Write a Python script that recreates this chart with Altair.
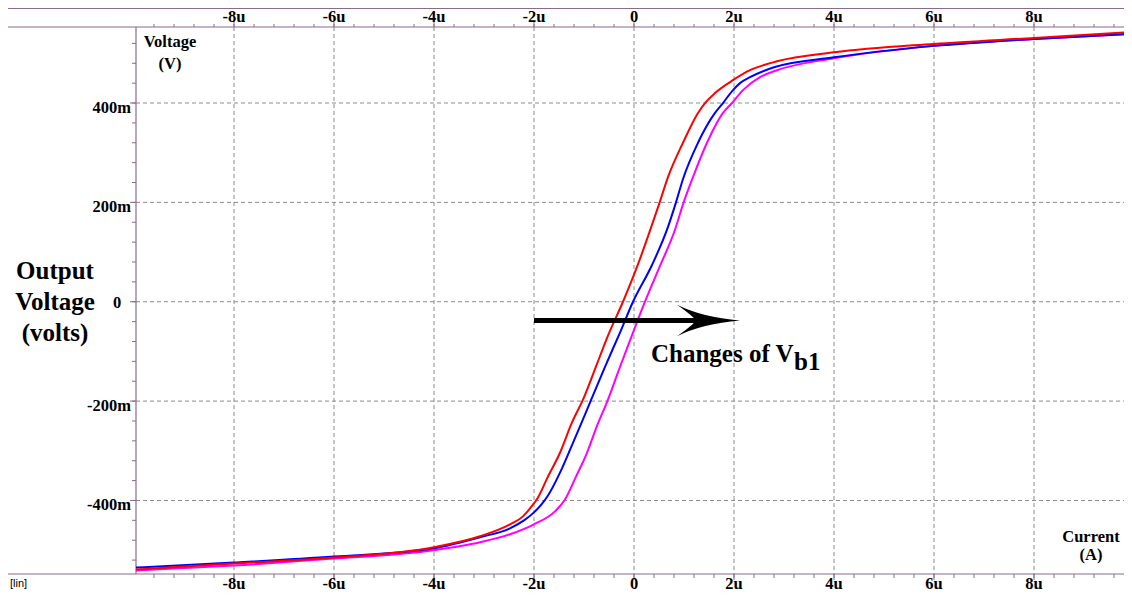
import altair as alt
import pandas as pd

# ---------------- data ----------------
red_x = [-9.96, -8, -6, -4, -3.08, -2.48, -2.22, -2.08, -1.92, -1.74, -1.48, -1.24, -1.02,
         -0.74, -0.52, -0.22, 0.06, 0.32, 0.5, 0.68, 0.98, 1.28, 1.42, 1.62, 1.98, 2.32,
         2.86, 4, 6, 8, 9.96]
red_y = [-0.539, -0.527, -0.515, -0.494, -0.472, -0.448, -0.432, -0.416, -0.394, -0.356,
         -0.304, -0.243, -0.197, -0.125, -0.068, 0.0, 0.07, 0.143, 0.196, 0.251, 0.32, 0.38,
         0.40, 0.42, 0.446, 0.466, 0.484, 0.502, 0.519, 0.531, 0.543]

blue_x = [-9.96, -8, -6, -4, -3.08, -2.48, -2.2, -2.0, -1.85, -1.72, -1.48, -1.28, -1.08,
          -0.86, -0.58, -0.28, -0.02, 0.36, 0.66, 0.84, 0.98, 1.28, 1.62, 1.78, 1.98, 2.12,
          2.32, 2.8, 4, 6, 8, 9.96]
blue_y = [-0.535, -0.525, -0.513, -0.496, -0.474, -0.456, -0.44, -0.424, -0.408, -0.39,
          -0.344, -0.298, -0.251, -0.198, -0.131, -0.062, 0.0, 0.074, 0.145, 0.2, 0.247,
          0.32, 0.38, 0.40, 0.426, 0.44, 0.452, 0.472, 0.492, 0.515, 0.529, 0.539]

mag_x = [-9.96, -8, -6, -4, -3.08, -2.48, -2.0, -1.58, -1.38, -1.16, -0.94, -0.74, -0.52,
         -0.28, -0.02, 0.22, 0.52, 0.82, 0.98, 1.18, 1.46, 1.78, 1.96, 2.18, 2.52, 2.86,
         4, 6, 8, 9.96]
mag_y = [-0.541, -0.531, -0.517, -0.50, -0.484, -0.468, -0.448, -0.422, -0.398, -0.352,
         -0.304, -0.25, -0.197, -0.131, -0.062, 0.0, 0.072, 0.145, 0.196, 0.251, 0.32, 0.38,
         0.40, 0.426, 0.452, 0.466, 0.49, 0.515, 0.529, 0.539]

x_major = [-8, -6, -4, -2, 0, 2, 4, 6, 8]
x_labels = ["-8u", "-6u", "-4u", "-2u", "0", "2u", "4u", "6u", "8u"]
y_major = [-0.4, -0.2, 0.2, 0.4]
y_labels = ["-400m", "-200m", "200m", "400m"]
y_zero = [0.0]
y_zero_label = ["0"]
x_minor = [round(-9.6 + 0.4 * i, 2) for i in range(49)]
y_minor = [round(-0.52 + 0.04 * i, 2) for i in range(27)]

arrow_x = [-2.0, 1.35]
arrow_y = [-0.038, -0.038]
arrow_head_x = [1.49]
arrow_head_y = [-0.038]

# ---------------- layout constants ----------------
W, H = 988, 547          # plot area: page x 136..1124, y 27..574
AXIS = "#8b6b8b"
GRID = "#8c8c8c"
SERIF = "Liberation Serif"
LBL = 16.5

xs = alt.Scale(domain=[-9.96, 9.8], nice=False, zero=False)
ys = alt.Scale(domain=[-0.548, 0.553], nice=False, zero=False)

def X(f):
    return alt.X(f, type="quantitative", scale=xs, axis=None)

def Y(f):
    return alt.Y(f, type="quantitative", scale=ys, axis=None)

one = pd.DataFrame({"a": [0]})
layers = []

# grid
gx = pd.DataFrame({"v": x_major})
layers.append(alt.Chart(gx).mark_rule(color=GRID, strokeDash=[4, 3], strokeWidth=1).encode(
    x=X("v"), y=alt.value(0), y2=alt.value(H)))
gy = pd.DataFrame({"v": y_major + y_zero})
layers.append(alt.Chart(gy).mark_rule(color=GRID, strokeDash=[4, 3], strokeWidth=1).encode(
    y=Y("v"), x=alt.value(0), x2=alt.value(W)))

# frame lines
for yv in [-18.5, 0, H]:
    layers.append(alt.Chart(one).mark_rule(color=AXIS, strokeWidth=1.2).encode(
        x=alt.value(-131), x2=alt.value(W), y=alt.value(yv)))
layers.append(alt.Chart(one).mark_rule(color=AXIS, strokeWidth=1.2).encode(
    x=alt.value(0), y=alt.value(0), y2=alt.value(H)))

# ticks
mx = pd.DataFrame({"v": x_minor})
layers.append(alt.Chart(mx).mark_rule(color=AXIS, strokeWidth=1).encode(
    x=X("v"), y=alt.value(-3), y2=alt.value(0)))
layers.append(alt.Chart(mx).mark_rule(color=AXIS, strokeWidth=1).encode(
    x=X("v"), y=alt.value(H), y2=alt.value(H + 4)))
layers.append(alt.Chart(gx).mark_rule(color=AXIS, strokeWidth=1).encode(
    x=X("v"), y=alt.value(-5), y2=alt.value(0)))
layers.append(alt.Chart(gx).mark_rule(color=AXIS, strokeWidth=1).encode(
    x=X("v"), y=alt.value(H), y2=alt.value(H + 6)))
my = pd.DataFrame({"v": y_minor})
layers.append(alt.Chart(my).mark_rule(color=AXIS, strokeWidth=1).encode(
    y=Y("v"), x=alt.value(-4), x2=alt.value(0)))
layers.append(alt.Chart(gy).mark_rule(color=AXIS, strokeWidth=1).encode(
    y=Y("v"), x=alt.value(-6), x2=alt.value(0)))

# tick labels
xl = pd.DataFrame({"v": x_major, "t": x_labels})
layers.append(alt.Chart(xl).mark_text(font=SERIF, fontWeight="bold", fontSize=LBL,
                                      baseline="alphabetic", align="center", color="black").encode(
    x=X("v"), y=alt.value(-5.5), text="t:N"))
layers.append(alt.Chart(xl).mark_text(font=SERIF, fontWeight="bold", fontSize=LBL,
                                      baseline="alphabetic", align="center", color="black").encode(
    x=X("v"), y=alt.value(H + 15), text="t:N"))
yl = pd.DataFrame({"v": y_major, "t": y_labels})
layers.append(alt.Chart(yl).mark_text(font=SERIF, fontWeight="bold", fontSize=LBL,
                                      baseline="alphabetic", align="right", dy=10, color="black").encode(
    y=Y("v"), x=alt.value(-5), text="t:N"))
yz = pd.DataFrame({"v": y_zero, "t": y_zero_label})
layers.append(alt.Chart(yz).mark_text(font=SERIF, fontWeight="bold", fontSize=LBL,
                                      baseline="alphabetic", align="center", dy=6, color="black").encode(
    y=Y("v"), x=alt.value(-19), text="t:N"))

# curves
for xsv, ysv, col in [(mag_x, mag_y, "#ff00ff"), (blue_x, blue_y, "#0000ff"), (red_x, red_y, "#ff0000")]:
    d = pd.DataFrame({"current": xsv, "voltage": ysv})
    layers.append(alt.Chart(d).mark_line(color=col, strokeWidth=2, interpolate="monotone", clip=True).encode(
        x=X("current"), y=Y("voltage")))

# arrow
ad = pd.DataFrame({"x": arrow_x, "y": arrow_y})
layers.append(alt.Chart(ad).mark_line(color="black", strokeWidth=5).encode(x=X("x"), y=Y("y")))
hd = pd.DataFrame({"x": arrow_head_x, "y": arrow_head_y})
head_path = "M 1 0 Q -0.2 -0.1 -1 -0.5 Q -0.5 -0.15 -0.4 0 Q -0.5 0.15 -1 0.5 Q -0.2 0.1 1 0 Z"
layers.append(alt.Chart(hd).mark_point(shape=head_path, size=3969, filled=True, color="black",
                                       opacity=1, strokeWidth=0).encode(x=X("x"), y=Y("y")))

# texts
def txt(s, x, y, size=LBL, align="center", baseline="alphabetic", font=SERIF, weight="bold"):
    return alt.Chart(pd.DataFrame({"t": [s]})).mark_text(
        font=font, fontWeight=weight, fontSize=size, align=align, baseline=baseline, color="black"
    ).encode(x=alt.value(x), y=alt.value(y), text="t:N")

layers.append(txt("Voltage", 34, 20))
layers.append(txt("(V)", 34, 42))
layers.append(txt("Current", 955, 514.5))
layers.append(txt("(A)", 955, 533))
layers.append(txt("[lin]", -126, 560, size=11, align="left", font="Liberation Sans", weight="normal"))
layers.append(txt("Output", -81, 244, size=25, baseline="middle"))
layers.append(txt("Voltage", -81, 275, size=25, baseline="middle"))
layers.append(txt("(volts)", -81, 306, size=25, baseline="middle"))
layers.append(txt("Changes of V", 515, 335, size=25, align="left"))
layers.append(txt("b1", 658, 343, size=25, align="left"))

chart = alt.layer(*layers).properties(
    width=W, height=H,
    autosize=alt.AutoSizeParams(type="none"),
    padding={"left": 128, "top": 19, "right": 0, "bottom": 19},
    background="white",
).configure_view(stroke=None)

chart.save("out.html", embed_options={"renderer": "svg", "actions": False})
